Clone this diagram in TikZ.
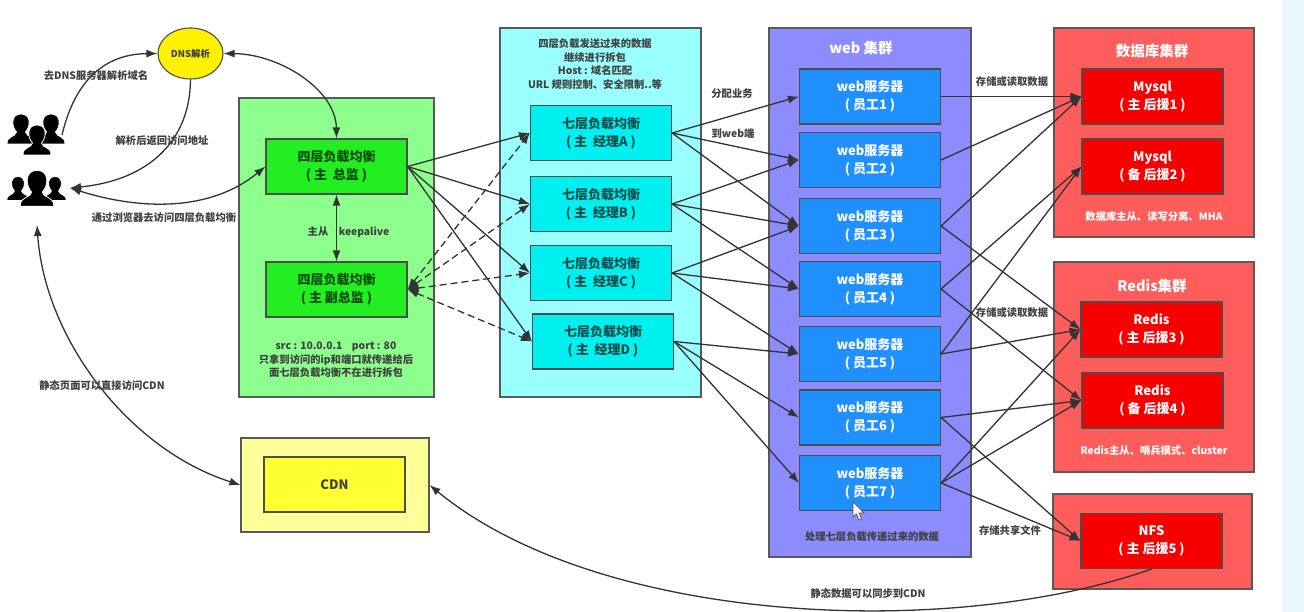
\documentclass[tikz,border=0pt]{standalone}
\usepackage{fontspec}
\setmainfont{Noto Sans CJK SC}
\usepackage{xcolor}
\usetikzlibrary{arrows.meta,shapes.geometric}
\definecolor{greenpanel}{HTML}{8CFF8C}
\definecolor{greenbox}{HTML}{22EE22}
\definecolor{cyanpanel}{HTML}{99FFFF}
\definecolor{cyanbox}{HTML}{00F0F0}
\definecolor{bluepanel}{HTML}{8C8CFF}
\definecolor{bluebox}{HTML}{2090FF}
\definecolor{redpanel}{HTML}{FF5C5C}
\definecolor{redbox}{HTML}{F80000}
\definecolor{yellowpanel}{HTML}{FFFF99}
\definecolor{yellowbox}{HTML}{FFFF33}
\definecolor{linegray}{HTML}{333333}
\tikzset{
    panel/.style={draw=black!65, line width=1.1pt, inner sep=0pt},
    box/.style={draw=black!70, line width=1.1pt, inner sep=0pt, minimum width=141pt, minimum height=55pt, align=center, font=\fontsize{13}{18}\selectfont\bfseries},
    small/.style={inner sep=0pt, align=center, text=black!75, font=\fontsize{10.3}{13.5}\selectfont\bfseries},
    title/.style={inner sep=0pt, text=white, font=\fontsize{14.5}{18}\selectfont\bfseries},
    link/.style={draw=linegray, line width=1.3pt, -{Latex[length=11pt,width=8pt]}},
    twolink/.style={draw=linegray, line width=1.3pt, {Latex[length=11pt,width=8pt]}-{Latex[length=11pt,width=8pt]}},
    dashlink/.style={twolink, dash pattern=on 7pt off 4pt},
    person/.pic={
        \fill[draw=white, line width=0.8pt, pic actions] (-14,12) .. controls (-14,3) and (-6,6) .. (-4.5,0) .. controls (-10,-6) and (-10,-18) .. (0,-18) .. controls (10,-18) and (10,-6) .. (4.5,0) .. controls (6,6) and (14,3) .. (14,12) -- cycle;
    }
}
\begin{document}
\begin{tikzpicture}[x=1pt,y=-1pt]
        \useasboundingbox (0,0) rectangle (1304,612);
        %BACKGROUND
        \fill[white] (0,0) rectangle (1304,612);
        \fill[blue!40!cyan!8] (1282,0) rectangle (1304,612);
        \fill[black!20] (1318,140) circle (14);
        %PANEL
        \node[panel, fill=greenpanel, minimum width=195pt, minimum height=299pt] (layerfour) at (336.5,247.5) {};
        \node[panel, fill=cyanpanel, minimum width=201pt, minimum height=369pt] (layerseven) at (600.5,212.5) {};
        \node[panel, fill=bluepanel, minimum width=202pt, minimum height=529pt] (webpanel) at (870,292.5) {};
        \node[panel, fill=redpanel, minimum width=200pt, minimum height=209pt] (dbpanel) at (1154,132.5) {};
        \node[panel, fill=redpanel, minimum width=200pt, minimum height=210pt] (redispanel) at (1154,367) {};
        \node[panel, fill=redpanel, minimum width=199pt, minimum height=95pt] (nfspanel) at (1152.5,541.5) {};
        \node[panel, fill=yellowpanel, minimum width=188pt, minimum height=94pt] (cdnpanel) at (335,485) {};
        %BOX
        \node[box, fill=greenbox, text=green!30!black] (fourmain) at (336.5,166.5) {四层负载均衡\\( 主\ \ 总监 )};
        \node[box, fill=greenbox, text=green!30!black] (fourback) at (336.5,289.5) {四层负载均衡\\( 主 副总监 )};
        \node[box, fill=cyanbox, text=teal!60!black] (sevena) at (601,133) {七层负载均衡\\( 主\ \ 经理A )};
        \node[box, fill=cyanbox, text=teal!60!black] (sevenb) at (601,204) {七层负载均衡\\( 主\ \ 经理B )};
        \node[box, fill=cyanbox, text=teal!60!black] (sevenc) at (601,273) {七层负载均衡\\( 主\ \ 经理C )};
        \node[box, fill=cyanbox, text=teal!60!black] (sevend) at (603,341.5) {七层负载均衡\\( 主\ \ 经理D )};
        \node[box, fill=bluebox, text=white] (webone) at (870,96.5) {web服务器\\( 员工1 )};
        \node[box, fill=bluebox, text=white] (webtwo) at (870,160) {web服务器\\( 员工2 )};
        \node[box, fill=bluebox, text=white] (webthree) at (870,226) {web服务器\\( 员工3 )};
        \node[box, fill=bluebox, text=white] (webfour) at (870,289) {web服务器\\( 员工4 )};
        \node[box, fill=bluebox, text=white] (webfive) at (870,354) {web服务器\\( 员工5 )};
        \node[box, fill=bluebox, text=white] (websix) at (870,417.5) {web服务器\\( 员工6 )};
        \node[box, fill=bluebox, text=white] (webseven) at (870,483) {web服务器\\( 员工7 )};
        \node[box, fill=redbox, text=white] (mysqlone) at (1152.5,96.5) {Mysql\\( 主 后援1 )};
        \node[box, fill=redbox, text=white] (mysqltwo) at (1152.5,166.5) {Mysql\\( 备 后援2 )};
        \node[box, fill=redbox, text=white] (redisone) at (1151.5,329.5) {Redis\\( 主 后援3 )};
        \node[box, fill=redbox, text=white] (redistwo) at (1152.5,400.5) {Redis\\( 备 后援4 )};
        \node[box, fill=redbox, text=white] (nfsbox) at (1151.5,541) {NFS\\( 主 后援5 )};
        \node[box, fill=yellowbox, text=black!75] (cdnbox) at (334.5,484.5) {CDN};
        \node[draw=black!70, line width=1.1pt, fill=yellow, ellipse, inner sep=0pt, minimum width=65pt, minimum height=51pt, font=\fontsize{9.5}{12}\selectfont\bfseries, text=black!75] (dnsnode) at (190.5,53.5) {DNS解析};
        %USERS
        \pic[black] at (21,132) {person};
        \pic[black] at (51,132) {person};
        \pic[black] at (37,143) {person};
        \pic[black, scale=0.8] at (18,191) {person};
        \pic[black, scale=0.8] at (55,191) {person};
        \pic[black, scale=1.2] at (37,192) {person};
        \coordinate (usertop) at (62,135);
        \coordinate (userlow) at (70,188);
        \coordinate (userfoot) at (37,225);
        %CURVES
        \draw[link] (usertop) .. controls (75,80) and (105,54) .. (dnsnode.west);
        \draw[link] (dnsnode.south) .. controls (190,140) and (150,180) .. (userlow);
        \draw[twolink] (userlow) .. controls (140,210) and (210,212) .. (fourmain.west);
        \draw[twolink] (dnsnode.east) .. controls (280,54) and (336,90) .. (fourmain.north);
        \draw[twolink] (fourmain.south) -- (fourback.north);
        \draw[twolink] (userfoot) .. controls (45,340) and (130,450) .. (cdnpanel.west);
        \draw[link] (nfsbox.south) .. controls (950,640) and (600,625) .. (cdnpanel.east);
        %FOUR TO SEVEN
        \draw[link] (fourmain.east) -- (sevena.west);
        \draw[link] (fourmain.east) -- (sevenb.west);
        \draw[link] (fourmain.east) -- (sevenc.west);
        \draw[link] (fourmain.east) -- (sevend.west);
        \draw[dashlink] (fourback.east) -- (sevena.west);
        \draw[dashlink] (fourback.east) -- (sevenb.west);
        \draw[dashlink] (fourback.east) -- (sevenc.west);
        \draw[dashlink] (fourback.east) -- (sevend.west);
        %SEVEN TO WEB
        \draw[link] (sevena.east) -- (webone.west);
        \draw[link] (sevena.east) -- (webtwo.west);
        \draw[link] (sevena.east) -- (webthree.west);
        \draw[link] (sevenb.east) -- (webtwo.west);
        \draw[link] (sevenb.east) -- (webthree.west);
        \draw[link] (sevenb.east) -- (webfour.west);
        \draw[link] (sevenc.east) -- (webthree.west);
        \draw[link] (sevenc.east) -- (webfour.west);
        \draw[link] (sevenc.east) -- (webfive.west);
        \draw[link] (sevend.east) -- (webfive.west);
        \draw[link] (sevend.east) -- (websix.west);
        \draw[link] (sevend.east) -- (webseven.west);
        %WEB TO STORE
        \draw[link] (webone.east) -- (mysqlone.west);
        \draw[link] (webtwo.east) -- (mysqlone.west);
        \draw[link] (webthree.east) -- (mysqlone.west);
        \draw[link] (webfour.east) -- (mysqltwo.west);
        \draw[link] (webfive.east) -- (mysqltwo.west);
        \draw[link] (webthree.east) -- (redisone.west);
        \draw[link] (webfour.east) -- (redistwo.west);
        \draw[link] (webfive.east) -- (redisone.west);
        \draw[link] (websix.east) -- (redistwo.west);
        \draw[link] (webseven.east) -- (redisone.west);
        \draw[link] (webseven.east) -- (redistwo.west);
        \draw[link] (websix.east) -- (nfsbox.west);
        \draw[link] (webseven.east) -- (nfsbox.west);
        %TEXT
        \node[small] (txtask) at (96,76) {去DNS服务器解析域名};
        \node[small] (txtback) at (162,141) {解析后返回访问地址};
        \node[small] (txtbrowser) at (164,218) {通过浏览器去访问四层负载均衡};
        \node[small] (txtstatic) at (102,386) {静态页面可以直接访问CDN};
        \node[small] (txtmaster) at (318,232) {主从};
        \node[small] (txtkeep) at (364,232) {keepalive};
        \node[small] (txtfour) at (336,360) {src : 10.0.0.1\ \ \ \ port : 80\\只拿到访问的ip和端口就传递给后\\面七层负载均衡不在进行拆包};
        \node[small] (txtseven) at (595,64) {四层负载发送过来的数据\\继续进行拆包\\Host : 域名匹配\\URL 规则控制、安全限制..等};
        \node[small] (txtassign) at (732,94) {分配业务};
        \node[small] (txttoweb) at (733,134) {到web端};
        \node[small] (txtstoreone) at (1012,82) {存储或读取数据};
        \node[small] (txtstoretwo) at (1012,313) {存储或读取数据};
        \node[small] (txtshare) at (1010,531) {存储共享文件};
        \node[small] (txtsync) at (868,594) {静态数据可以同步到CDN};
        \node[small] (txtweb) at (872,537) {处理七层负载传递过来的数据};
        \node[title] (titleweb) at (861,48) {web 集群};
        \node[title] (titledb) at (1152,51) {数据库集群};
        \node[title] (titleredis) at (1152,286) {Redis集群};
        \node[small, text=white] (txtdb) at (1154,217) {数据库主从、读写分离、MHA};
        \node[small, text=white] (txtredis) at (1154,451) {Redis主从、哨兵模式、cluster};
        %CURSOR
        \draw[black!70, fill=white, line width=0.6pt] (853,502) -- (853,517) -- (856.5,514) -- (859,520) -- (861.5,519) -- (859,513) -- (864,513) -- cycle;
    \end{tikzpicture}
\end{document}
